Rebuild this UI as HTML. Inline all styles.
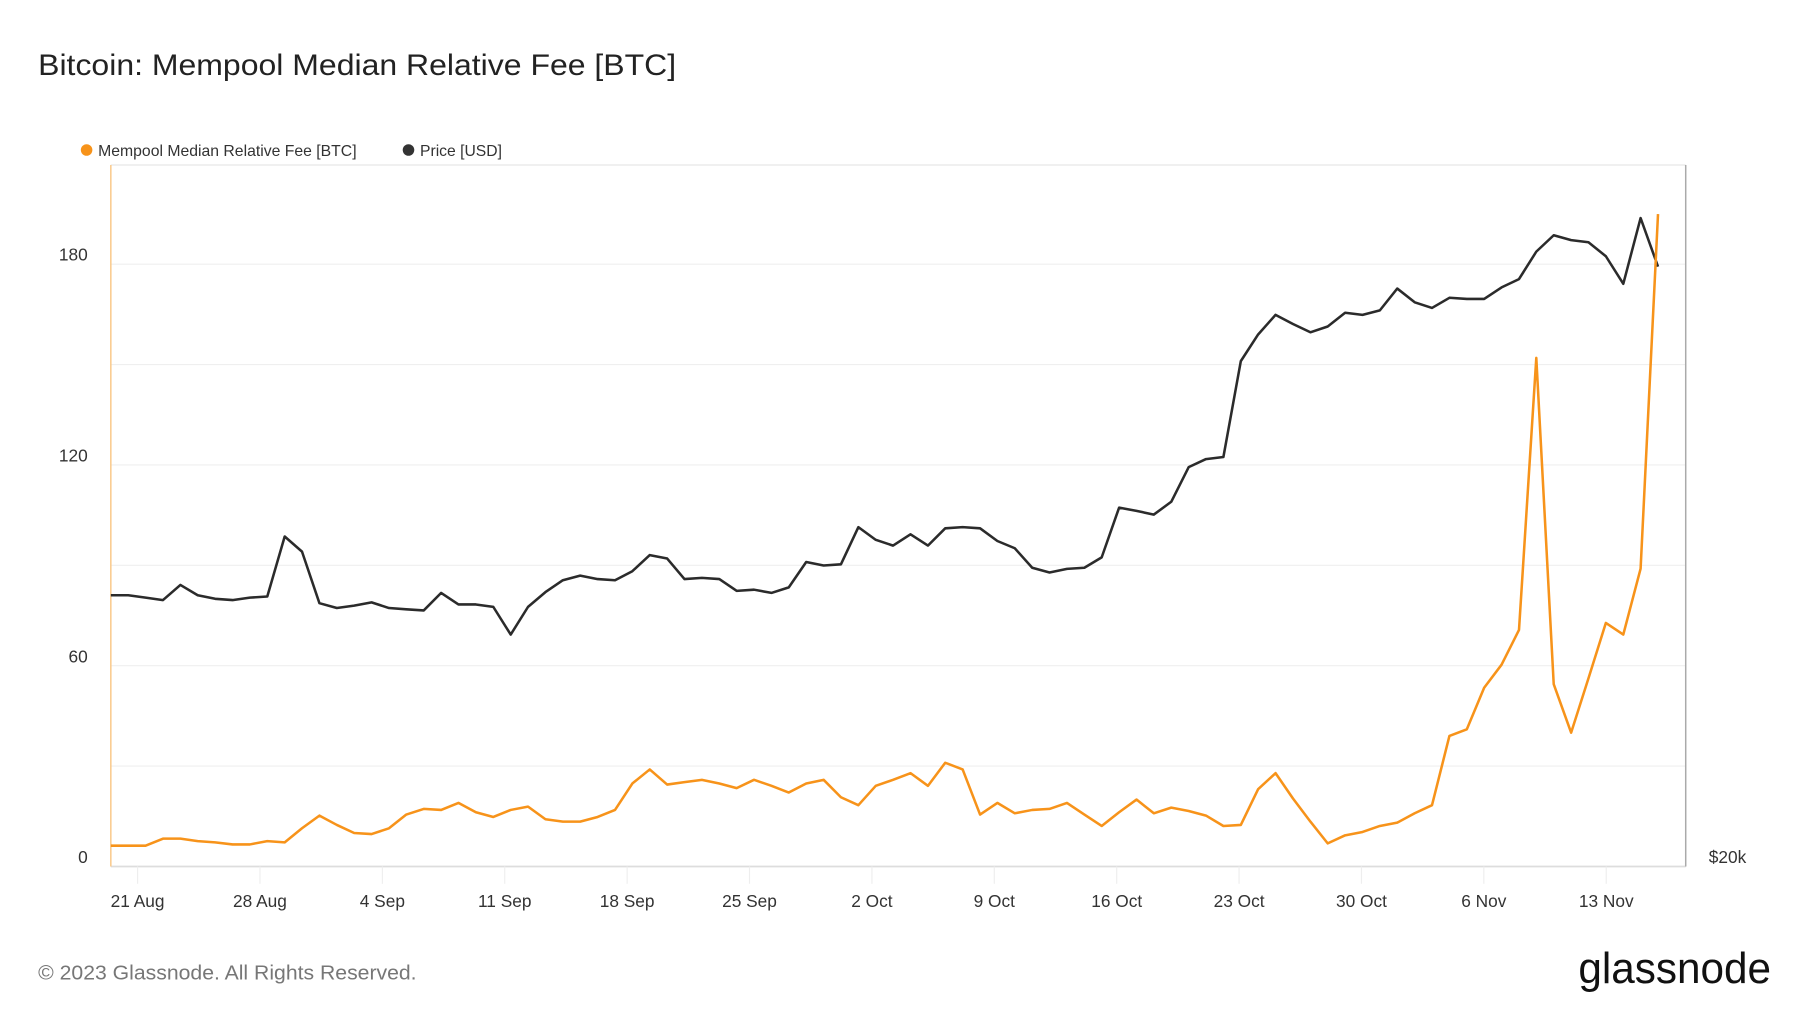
<!DOCTYPE html>
<html><head><meta charset="utf-8"><style>
html,body{margin:0;padding:0;background:#fff;}
svg{display:block;font-family:"Liberation Sans",sans-serif;}
</style></head><body>
<svg id="chart" width="1800" height="1013" viewBox="0 0 1560 878" xmlns="http://www.w3.org/2000/svg">
<rect width="1560" height="878" fill="#fff"/>
<text x="33" y="65" font-size="26" fill="#222" textLength="553" lengthAdjust="spacingAndGlyphs">Bitcoin: Mempool Median Relative Fee [BTC]</text>
<g>
<circle cx="75" cy="130" r="5" fill="#f7931a"/>
<text x="85" y="135" font-size="13.5" fill="#333" textLength="224" lengthAdjust="spacingAndGlyphs">Mempool Median Relative Fee [BTC]</text>
<circle cx="354" cy="130" r="5" fill="#333"/>
<text x="364" y="135" font-size="13.5" fill="#333" textLength="71" lengthAdjust="spacingAndGlyphs">Price [USD]</text>
</g>
<g id="grid"></g>
<g id="axes"></g>
<g id="series"></g>
<text x="33" y="849" font-size="18" fill="#777" textLength="328" lengthAdjust="spacingAndGlyphs">© 2023 Glassnode. All Rights Reserved.</text>
<text x="1368" y="852" font-size="38" fill="#111" textLength="167" lengthAdjust="spacingAndGlyphs">glassnode</text>
</svg>
<script>
const fee = [6.2,6.2,6.2,8.3,8.3,7.6,7.2,6.6,6.6,7.6,7.2,11.4,15.2,12.4,10,9.7,11.4,15.5,17.2,16.9,19,16.2,14.8,16.9,17.9,14.1,13.4,13.4,14.8,16.9,24.8,29,24.5,25.2,25.9,24.8,23.4,25.9,24.1,22.1,24.8,25.9,20.7,18.3,24.1,25.9,27.9,24.1,31,29,15.5,19,15.9,16.9,17.2,19,15.5,12.1,16.2,20,15.9,17.6,16.6,15.2,12.1,12.4,23.1,27.9,20.3,13.4,6.9,9.3,10.3,12.1,13.1,15.9,18.3,39,41,53.4,60.3,70.7,152,54.5,40,56.2,72.8,69.3,89,195];
const price = [26000,26000,25940,25880,26260,26000,25910,25880,25940,25970,27520,27120,25800,25680,25740,25820,25680,25650,25620,26060,25770,25770,25710,25030,25710,26080,26380,26500,26410,26380,26610,27030,26940,26410,26440,26410,26110,26140,26060,26200,26850,26760,26790,27770,27430,27280,27580,27280,27740,27770,27740,27400,27210,26700,26580,26670,26700,26970,28300,28210,28110,28460,29430,29660,29720,32610,33460,34100,33800,33530,33720,34170,34100,34250,34980,34520,34330,34670,34630,34630,35020,35300,36250,36830,36660,36580,36090,35140,37450,35730];
const xTickLabels = ["21 Aug","28 Aug","4 Sep","11 Sep","18 Sep","25 Sep","2 Oct","9 Oct","16 Oct","23 Oct","30 Oct","6 Nov","13 Nov"];
const xTickIndex = [1.53,8.53,15.53,22.53,29.53,36.53,43.53,50.53,57.53,64.53,71.53,78.53,85.53];
const yTicks = [0,60,120,180];
const yGrid = [0,30,60,90,120,150,180];

const L=96,R=1461,T=143,B=751;
const NS="http://www.w3.org/2000/svg";
const step=(1437-L)/(fee.length-1);
const xS=i=>L+i*step;
const xT=i=>L+i*15.154;
const yF=v=>B-v*(174/60);
const yP=p=>B-896*Math.log(p/20000);
function mk(tag,at,parent){const e=document.createElementNS(NS,tag);for(const k in at)e.setAttribute(k,at[k]);parent.appendChild(e);return e;}
const grid=document.getElementById('grid'),axes=document.getElementById('axes'),series=document.getElementById('series');
yGrid.forEach(v=>{if(v===0)return;const l=mk('line',{x1:L,x2:R,y1:yF(v),y2:yF(v),stroke:'#efefef','stroke-width':1},grid);

});
const bt=mk('line',{x1:L,x2:R,y1:T,y2:T,stroke:'#e6e6e6','stroke-width':1},axes);


const bb=mk('line',{x1:L,x2:R,y1:B,y2:B,stroke:'#ddd','stroke-width':1.5},axes);


const br=mk('line',{x1:R,x2:R,y1:T,y2:B,stroke:'#aaa','stroke-width':1.3},axes);


const bl=mk('line',{x1:L,x2:L,y1:T,y2:B,stroke:'#f9c98a','stroke-width':1.3},axes);


yTicks.forEach(v=>{const t=mk('text',{x:76,y:yF(v)-3,'text-anchor':'end','font-size':15,fill:'#333'},axes);t.textContent=v;

});
const pr=mk('text',{x:1481,y:748,'font-size':15,fill:'#333'},axes);pr.textContent='$20k';


xTickLabels.forEach((s,k)=>{const x=xT(xTickIndex[k]);
const tl=mk('line',{x1:x,x2:x,y1:B,y2:B+15,stroke:'#eee','stroke-width':1},axes);


const t=mk('text',{x:x,y:786,'text-anchor':'middle','font-size':15,fill:'#333'},axes);t.textContent=s;

});
const pd=price.map((p,i)=>(i?'L':'M')+xS(i).toFixed(1)+','+yP(p).toFixed(1)).join('');
const pl=mk('path',{d:pd,fill:'none',stroke:'#2b2b2b','stroke-width':2.2,'stroke-linejoin':'round'},series);


const fd=fee.map((v,i)=>(i?'L':'M')+xS(i).toFixed(1)+','+yF(v).toFixed(1)).join('');
const fl=mk('path',{d:fd,fill:'none',stroke:'#f7931a','stroke-width':2.2,'stroke-linejoin':'round'},series);


</script>
</body></html>
